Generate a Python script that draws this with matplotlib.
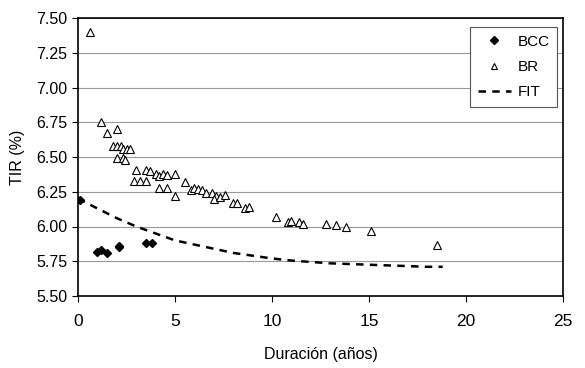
import matplotlib
matplotlib.use('Agg')
import matplotlib.pyplot as plt

plt.rcParams['font.family'] = ['Liberation Sans Narrow', 'Liberation Sans', 'DejaVu Sans']

# BR series (duration in years, TIR %)
br_x = [0.6, 1.2, 1.5, 2.0, 1.8, 2.0, 2.2, 2.3, 2.5, 2.7, 2.0, 2.3, 2.4,
        3.0, 3.5, 3.7, 2.9, 3.2, 3.5, 4.0, 4.2, 4.4, 4.6, 5.0, 4.2, 4.6, 5.0,
        5.5, 5.8, 6.0, 6.2, 6.4, 6.6, 6.9, 7.1, 7.0, 7.3, 7.6, 8.0, 8.2,
        8.6, 8.8, 10.2, 10.8, 11.0, 11.4, 11.6, 12.8, 13.3, 13.8, 15.1, 18.5]
br_y = [7.40, 6.75, 6.67, 6.70, 6.58, 6.58, 6.58, 6.56, 6.56, 6.56, 6.49, 6.49, 6.48,
        6.41, 6.41, 6.40, 6.33, 6.33, 6.33, 6.38, 6.36, 6.38, 6.37, 6.38, 6.28, 6.28, 6.22,
        6.32, 6.26, 6.28, 6.27, 6.26, 6.24, 6.24, 6.22, 6.20, 6.21, 6.23, 6.17, 6.17,
        6.13, 6.14, 6.07, 6.03, 6.04, 6.03, 6.02, 6.02, 6.01, 6.00, 5.97, 5.87]

# BCC series
bcc_x = [0.1, 1.0, 1.2, 1.5, 2.1, 2.1, 3.5, 3.8]
bcc_y = [6.19, 5.82, 5.83, 5.81, 5.85, 5.86, 5.88, 5.88]

# fitted curve
fit_x = [0, 1, 2, 3, 4, 5, 6, 7, 8, 9, 10, 11, 12, 13, 14, 15, 16, 17, 18, 18.8]
fit_y = [6.20, 6.13, 6.06, 6.00, 5.95, 5.90, 5.87, 5.84, 5.81, 5.79, 5.77,
         5.755, 5.745, 5.735, 5.73, 5.725, 5.72, 5.715, 5.71, 5.71]

fig = plt.figure(figsize=(5.85, 3.68), dpi=100)
ax = fig.add_axes([78 / 585, 1 - 296 / 368, (563 - 78) / 585, (296 - 18) / 368])

ax.plot(bcc_x, bcc_y, 'D', color='black', markersize=4.5, label='BCC', zorder=3)
ax.plot(br_x, br_y, '^', markerfacecolor='white', markeredgecolor='black',
        markersize=6, markeredgewidth=0.8, label='BR', zorder=3)
ax.plot(fit_x, fit_y, color='black', linewidth=1.8, dashes=(3, 2.5), label='FIT', zorder=2)

ax.set_xlim(0, 25)
ax.set_ylim(5.5, 7.5)
ax.set_xticks([0, 5, 10, 15, 20, 25])
ax.set_yticks([5.5 + 0.25 * i for i in range(9)])
ax.set_yticklabels(['%.2f' % (5.5 + 0.25 * i) for i in range(9)])
ax.yaxis.grid(True, color='#999999', linewidth=0.8)
ax.set_axisbelow(True)
ax.tick_params(direction='out', length=4, labelsize=11.5, color='black')
ax.tick_params(axis='x', pad=9, labelsize=12.5)
for s in ax.spines.values():
    s.set_linewidth(1.2)

ax.set_xlabel('Duración (años)', fontsize=11.5, labelpad=13)
ax.set_ylabel('TIR (%)', fontsize=11.5, labelpad=8)

leg = ax.legend(loc='upper right', bbox_to_anchor=(0.988, 0.968), borderaxespad=0,
                fontsize=11, frameon=True, fancybox=False, edgecolor='#555555',
                framealpha=1, handlelength=2.2, handletextpad=0.4, borderpad=0.5,
                labelspacing=0.75, markerscale=0.8)
leg.get_frame().set_linewidth(0.8)

fig.savefig('out.png', dpi=100)
